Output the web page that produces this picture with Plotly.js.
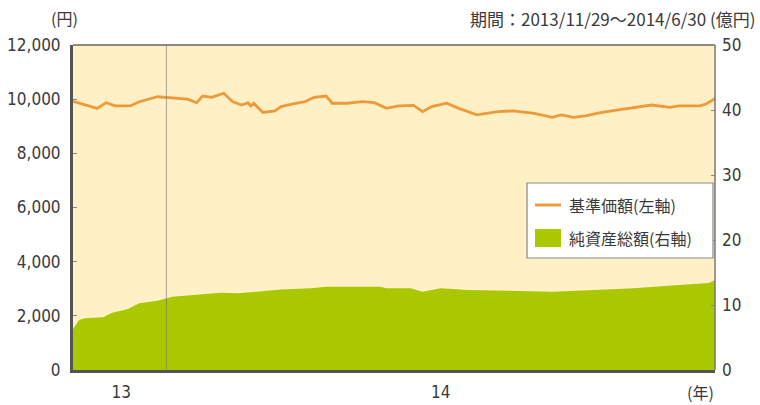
<!DOCTYPE html>
<html><head><meta charset="utf-8">
<script src="https://cdn.plot.ly/plotly-3.0.1.min.js"></script>
<style>html,body{margin:0;padding:0;background:#fff}#c{width:760px;height:405px}</style>
</head><body><div id="c"></div>
<script>
// 基準価額 (円, left axis)
const navDates = ['2013-11-29','2013-12-07','2013-12-10','2013-12-13','2013-12-18','2013-12-21','2013-12-27','2013-12-30',
'2014-01-06','2014-01-09','2014-01-11','2014-01-14','2014-01-18','2014-01-21','2014-01-24','2014-01-26','2014-01-27','2014-01-28','2014-01-31',
'2014-02-04','2014-02-06','2014-02-10','2014-02-14','2014-02-17','2014-02-21','2014-02-23','2014-02-28',
'2014-03-05','2014-03-09','2014-03-13','2014-03-17','2014-03-22','2014-03-25','2014-03-28',
'2014-04-02','2014-04-06','2014-04-12','2014-04-19','2014-04-24',
'2014-05-01','2014-05-07','2014-05-10','2014-05-14','2014-05-18','2014-05-23','2014-05-30',
'2014-06-05','2014-06-09','2014-06-15','2014-06-18','2014-06-25','2014-06-27','2014-06-30'];
const navValues = [9920,9660,9870,9750,9750,9906,10090,10070,
10000,9870,10117,10070,10217,9906,9785,9870,9750,9850,9510,
9570,9724,9822,9906,10070,10117,9850,9850,
9906,9870,9660,9750,9770,9540,9724,
9850,9660,9418,9540,9570,
9478,9330,9418,9330,9380,9500,9625,
9724,9785,9700,9750,9750,9822,10020];
// 純資産総額 (億円, right axis)
const assetDates = ['2013-11-29','2013-12-01','2013-12-03','2013-12-09','2013-12-12','2013-12-17','2013-12-21','2013-12-27',
'2014-01-01','2014-01-08','2014-01-17','2014-01-23','2014-01-30','2014-02-06','2014-02-16','2014-02-21',
'2014-03-04','2014-03-11','2014-03-13','2014-03-21','2014-03-25','2014-03-31','2014-04-09','2014-04-24',
'2014-05-07','2014-05-21','2014-06-03','2014-06-18','2014-06-28','2014-06-30'];
const assetValues = [6.3,7.7,7.95,8.1,8.8,9.33,10.26,10.67,
11.28,11.54,11.9,11.8,12.05,12.4,12.56,12.8,
12.8,12.8,12.56,12.56,12.05,12.56,12.3,12.2,
12.05,12.3,12.56,13.08,13.4,13.85];
const yearTickVals = ['2013-12-15','2014-03-31'];
const yearTickText = ['13','14'];
const yearBoundary = '2013-12-30';

const numFont = {family:'"Liberation Sans Narrow","DejaVu Sans Condensed","Noto Sans",sans-serif', size:17, color:'#3a3a3a'};
const jpFont = {family:'"Noto Sans CJK JP","Noto Sans",sans-serif', size:16, color:'#3a3a3a'};
const titleFont = {family:'"Noto Sans CJK JP","Noto Sans",sans-serif', size:17, color:'#3a3a3a'};
const legFont = {family:'"Noto Sans CJK JP","Noto Sans",sans-serif', size:16, color:'#3a3a3a'};

const traces = [
  {x:assetDates, y:assetValues, type:'scatter', mode:'lines', fill:'tozeroy', yaxis:'y',
   line:{color:'#a9c800', width:0, shape:'linear'}, fillcolor:'#a9c800', name:'純資産総額(右軸)', showlegend:false},
  {x:navDates, y:navValues, type:'scatter', mode:'lines', yaxis:'y2',
   line:{color:'#ee9a3a', width:2.8}, name:'基準価額(左軸)', showlegend:false}
];

const layout = {
  width:760, height:405,
  margin:{l:73, r:45, t:45, b:35},
  paper_bgcolor:'#ffffff', plot_bgcolor:'#fff0c6',
  showlegend:false,
  xaxis:{type:'date', range:['2013-11-29','2014-06-30'], tickvals:yearTickVals, ticktext:yearTickText,
    ticks:'', showgrid:false, zeroline:false, showline:true, linecolor:'#555', linewidth:3,
    tickfont:numFont, ticklabelstandoff:5},
  yaxis:{side:'right', range:[0,50], dtick:10, showgrid:false, zeroline:false, showline:false,
    ticks:'inside', ticklen:4, tickcolor:'#888', tickfont:numFont, ticklabelstandoff:6},
  yaxis2:{side:'left', overlaying:'y', range:[0,12000], dtick:2000, tickformat:',d', showgrid:false, zeroline:false,
    showline:true, linecolor:'#555', linewidth:3, ticks:'inside', ticklen:4, tickcolor:'#888', tickfont:numFont, ticklabelstandoff:6},
  shapes:[
    {type:'line', xref:'x', yref:'paper', x0:yearBoundary, x1:yearBoundary, y0:0, y1:1, line:{color:'rgba(120,120,120,0.55)', width:1.2}, layer:'above'},
    {type:'line', xref:'paper', yref:'paper', x0:0, x1:1, y0:1, y1:1, line:{color:'#666', width:1.5}},
    {type:'line', xref:'paper', yref:'paper', x0:1, x1:1, y0:0, y1:1, line:{color:'#777', width:1.5}},
    // legend box
    {type:'rect', xref:'paper', yref:'paper', x0:(527-73)/642, x1:(713-73)/642, y0:(370-258)/325, y1:(370-183)/325,
     fillcolor:'#ffffff', line:{color:'#888', width:1.2}},
    {type:'line', xref:'paper', yref:'paper', x0:(535-73)/642, x1:(561-73)/642, y0:(370-205)/325, y1:(370-205)/325,
     line:{color:'#ee9a3a', width:3}},
    {type:'rect', xref:'paper', yref:'paper', x0:(535-73)/642, x1:(561-73)/642, y0:(370-247)/325, y1:(370-229)/325,
     fillcolor:'#a9c800', line:{width:0}}
  ],
  annotations:[
    {text:'(円)', xref:'paper', yref:'paper', x:7/642, y:(370-18)/325, xanchor:'right', yanchor:'middle', showarrow:false, font:jpFont},
    {text:'期間：2013/11/29～2014/6/30 (億円)', xref:'paper', yref:'paper', x:(757-73)/642, y:(370-18)/325, xanchor:'right', yanchor:'middle', showarrow:false, font:titleFont},
    {text:'(年)', xref:'paper', yref:'paper', x:(716-73)/642, y:(370-392)/325, xanchor:'right', yanchor:'middle', showarrow:false, font:jpFont},
    {text:'基準価額(左軸)', xref:'paper', yref:'paper', x:(567-73)/642, y:(370-205)/325, xanchor:'left', yanchor:'middle', showarrow:false, font:legFont},
    {text:'純資産総額(右軸)', xref:'paper', yref:'paper', x:(567-73)/642, y:(370-238)/325, xanchor:'left', yanchor:'middle', showarrow:false, font:legFont}
  ]
};
Plotly.newPlot('c', traces, layout, {staticPlot:true, displayModeBar:false});
</script></body></html>
